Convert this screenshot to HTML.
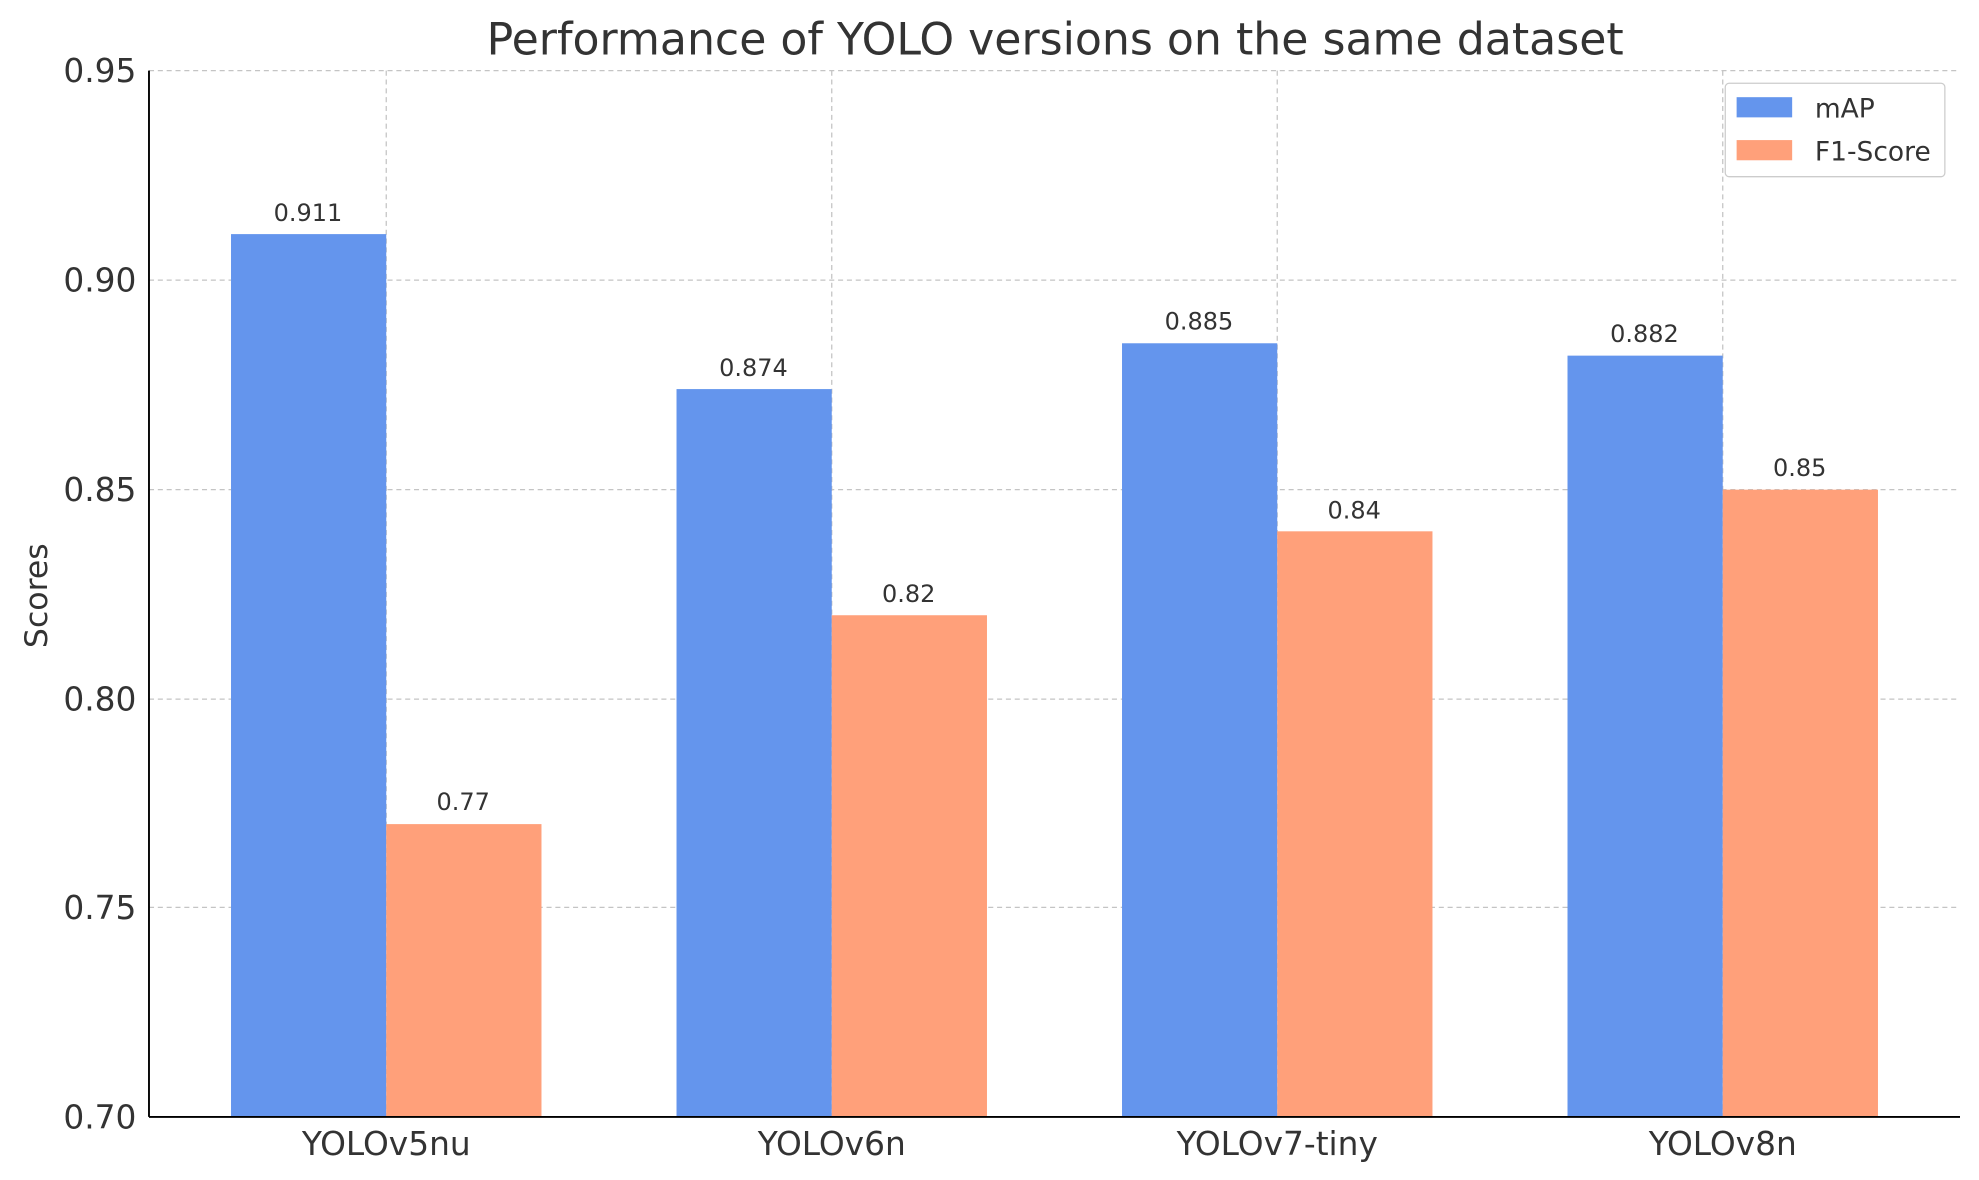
<!DOCTYPE html>
<html><head><style>html,body{margin:0;padding:0;background:#fff}svg{display:block}</style></head>
<body>
<svg width="1979" height="1180" viewBox="0 0 1568 935" xmlns="http://www.w3.org/2000/svg" font-family="DejaVu Sans, Liberation Sans, sans-serif" fill="#333">
<rect width="1568" height="935" fill="#fff"/>
<g stroke="#c4c4c4" stroke-dasharray="4,3" stroke-width="1">
<line x1="118" x2="1553" y1="56" y2="56"/><line x1="118" x2="1553" y1="222" y2="222"/><line x1="118" x2="1553" y1="388" y2="388"/><line x1="118" x2="1553" y1="554" y2="554"/><line x1="118" x2="1553" y1="719" y2="719"/>
<line x1="306" x2="306" y1="56" y2="885"/><line x1="659" x2="659" y1="56" y2="885"/><line x1="1012" x2="1012" y1="56" y2="885"/><line x1="1365" x2="1365" y1="56" y2="885"/>
</g>
<g fill="#6495ed">
<rect x="183" y="185.5" width="123" height="699.5"/><rect x="536" y="308.3" width="123" height="576.7"/><rect x="889" y="272" width="123" height="613"/><rect x="1242" y="281.8" width="123" height="603.2"/>
</g>
<g fill="#ffa07a">
<rect x="306" y="653" width="123" height="232"/><rect x="659" y="487.5" width="123" height="397.5"/><rect x="1012" y="421" width="123" height="464"/><rect x="1365" y="388" width="123" height="497"/>
</g>
<g font-size="19" text-anchor="middle">
<text x="244" y="175">0.911</text><text x="597" y="298">0.874</text><text x="950" y="261">0.885</text><text x="1303" y="271">0.882</text>
<text x="367" y="642">0.77</text><text x="720" y="477">0.82</text><text x="1073" y="411">0.84</text><text x="1426" y="377">0.85</text>
</g>
<g stroke="#000" stroke-width="1.5"><line x1="118" x2="118" y1="56" y2="885"/><line x1="118" x2="1553" y1="885" y2="885"/></g>
<g font-size="26" text-anchor="end">
<text x="108" y="65">0.95</text><text x="108" y="231">0.90</text><text x="108" y="397">0.85</text><text x="108" y="563">0.80</text><text x="108" y="728">0.75</text><text x="108" y="894">0.70</text>
</g>
<g font-size="26" text-anchor="middle">
<text x="306" y="915">YOLOv5nu</text><text x="659" y="915">YOLOv6n</text><text x="1012" y="915">YOLOv7-tiny</text><text x="1365" y="915">YOLOv8n</text>
</g>
<text x="37" y="472" font-size="25" text-anchor="middle" transform="rotate(-90 37 472)">Scores</text>
<text x="836" y="43" font-size="35" text-anchor="middle">Performance of YOLO versions on the same dataset</text>
<rect x="1367" y="66" width="174" height="74" rx="3" fill="#fff" stroke="#ccc"/>
<rect x="1376" y="77" width="44" height="16" fill="#6495ed"/><text x="1438" y="93" font-size="21">mAP</text>
<rect x="1376" y="111" width="44" height="16" fill="#ffa07a"/><text x="1438" y="127" font-size="21">F1-Score</text>
</svg>
</body></html>
